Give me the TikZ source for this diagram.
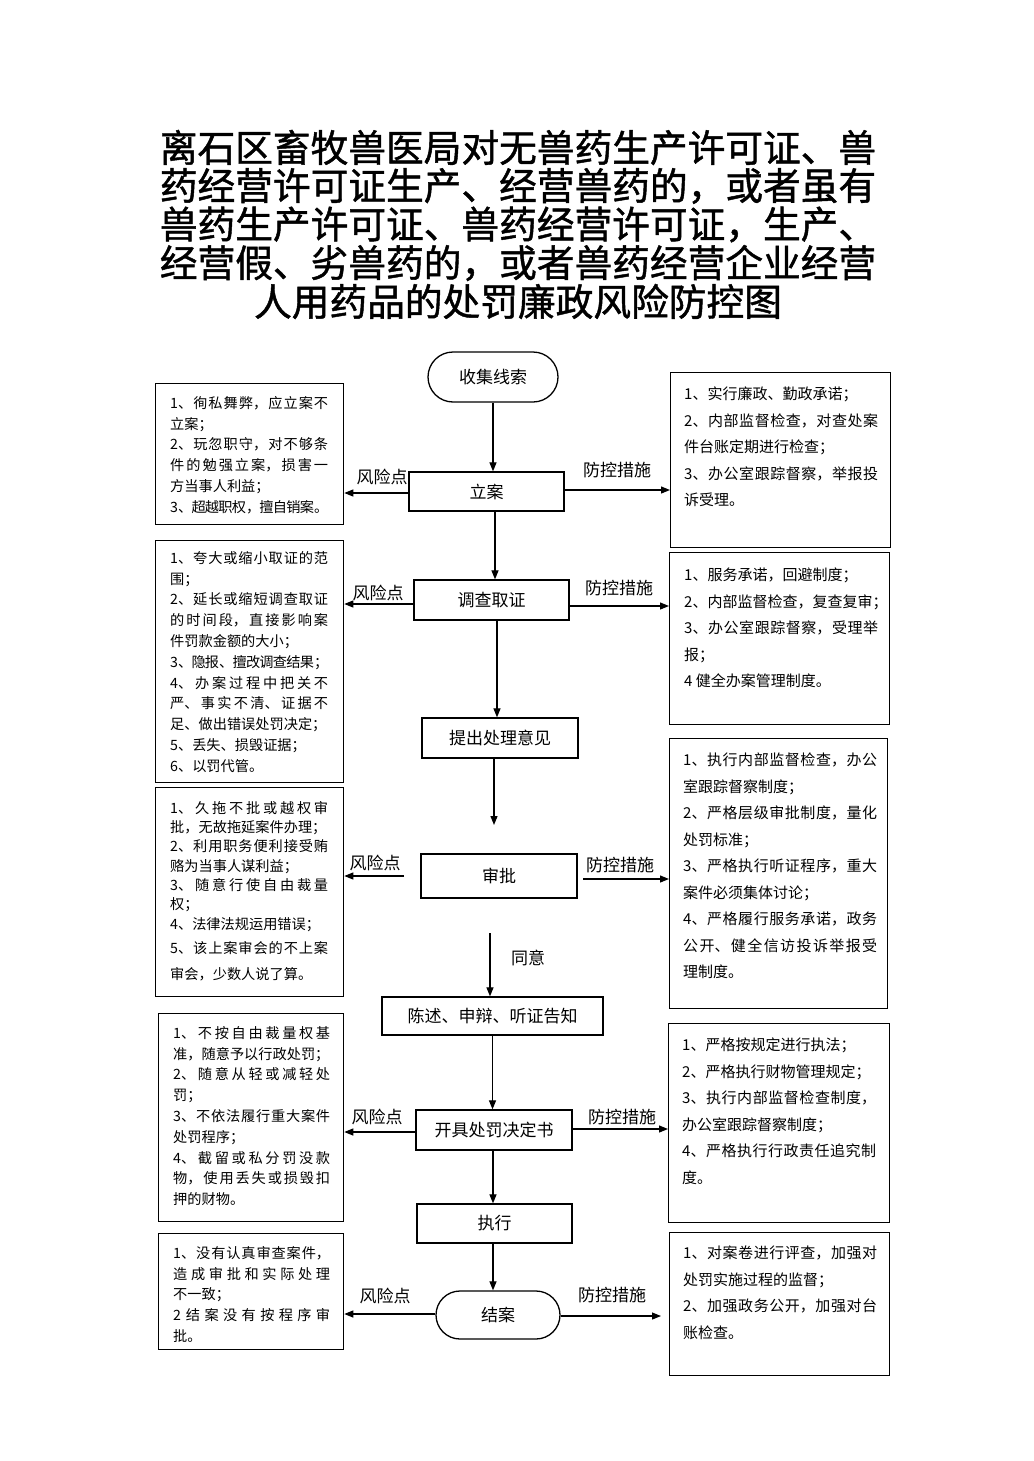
\documentclass[tikz,border=0pt]{standalone}
\usepackage{fontspec}
\usetikzlibrary{arrows.meta,calc}
\newfontfamily\cjkf{Noto Sans CJK SC}
\newfontfamily\cjkt{Noto Sans CJK SC}[FakeBold=1.2]
\XeTeXlinebreaklocale "zh"
\XeTeXlinebreakskip=0pt plus 4pt minus 1pt
\hbadness=10000 \vbadness=10000 \hfuzz=20pt \tolerance=10000
\newcommand\fitline[1]{\hbox to\linewidth{#1}}
\begin{document}
\begin{tikzpicture}[x=1pt,y=-1pt,
  ttl/.style={font=\cjkt\fontsize{37.7}{38.5}\selectfont, inner sep=0},
  proc/.style={draw, line width=1.3pt, inner sep=0, font=\cjkf\fontsize{17}{17}\selectfont},
  boxs/.style={draw, line width=1.3pt, inner sep=0, anchor=north west},
  ltext/.style={font=\cjkf\fontsize{14.2}{20.8}\selectfont, text width=158, align=justify, inner sep=0, anchor=base west},
  rtext/.style={font=\cjkf\fontsize{15}{26.5}\selectfont, text width=194, align=justify, inner sep=0, anchor=base west},
  lbl/.style={font=\cjkf\fontsize{17}{17}\selectfont, inner sep=0},
  arr/.style={line width=1.2pt, -{Triangle[length=9pt,width=7pt]}}]
\fill[white] (0,0) rectangle (1033,1461);
\useasboundingbox (0,0) rectangle (1033,1461);

% title
\node[ttl] (t1) at (518,147.5) {离石区畜牧兽医局对无兽药生产许可证、兽};
\node[ttl] (t2) at (518,186) {药经营许可证生产、经营兽药的，或者虽有};
\node[ttl] (t3) at (518,224.5) {兽药生产许可证、兽药经营许可证，生产、};
\node[ttl] (t4) at (518,263) {经营假、劣兽药的，或者兽药经营企业经营};
\node[ttl] (t5) at (518,301.5) {人用药品的处罚廉政风险防控图};

% central flow
\node[proc, minimum width=130, minimum height=50, rounded corners=25] (n1) at (493,377) {收集线索};
\node[proc, minimum width=155, minimum height=39] (n2) at (486.5,491.5) {立案};
\node[proc, minimum width=155, minimum height=40] (n3) at (491.5,600) {调查取证};
\node[proc, minimum width=156, minimum height=40] (n4) at (500,738) {提出处理意见};
\node[proc, minimum width=156, minimum height=44] (n5) at (499,876) {审批};
\node[proc, minimum width=221, minimum height=38] (n6) at (492.5,1016) {陈述、申辩、听证告知};
\node[proc, minimum width=156, minimum height=40] (n7) at (494,1130) {开具处罚决定书};
\node[proc, minimum width=155, minimum height=39] (n8) at (494.5,1223.5) {执行};
\node[proc, minimum width=124, minimum height=48, rounded corners=24] (n9) at (498,1315) {结案};

% left boxes
\node[boxs, minimum width=188, minimum height=141] (L1) at (155,383) {};
\node[boxs, minimum width=188, minimum height=242] (L2) at (155,540) {};
\node[boxs, minimum width=188, minimum height=209] (L3) at (155,787) {};
\node[boxs, minimum width=185, minimum height=208] (L4) at (158,1013) {};
\node[boxs, minimum width=185, minimum height=116] (L5) at (158,1233) {};

% right boxes
\node[boxs, minimum width=220, minimum height=175] (R1) at (670,372) {};
\node[boxs, minimum width=220, minimum height=172] (R2) at (669,552) {};
\node[boxs, minimum width=218, minimum height=270] (R3) at (669,738) {};
\node[boxs, minimum width=221, minimum height=199] (R4) at (668,1023) {};
\node[boxs, minimum width=220, minimum height=143] (R5) at (669,1232) {};

% left texts
\node[ltext] (L1t) at (170,408.3) {1、徇私舞弊，应立案不\linebreak 立案；\par
2、玩忽职守，对不够条\linebreak 件的勉强立案，损害一\linebreak 方当事人利益；\par
3、超越职权，擅自销案。};
\node[ltext] (L2t) at (170,563.3) {1、夸大或缩小取证的范\linebreak 围；\par
2、延长或缩短调查取证\linebreak 的时间段，直接影响案\linebreak 件罚款金额的大小；\par
3、隐报、擅改调查结果；\par
4、办案过程中把关不\linebreak 严、事实不清、证据不\linebreak 足、做出错误处罚决定；\par
5、丢失、损毁证据；\par
6、以罚代管。};
\node[ltext, font=\cjkf\fontsize{14.2}{19.3}\selectfont] (L3t) at (170,813.3) {1、久拖不批或越权审\linebreak 批，无故拖延案件办理；\par
2、利用职务便利接受贿\linebreak 赂为当事人谋利益；\par
3、随意行使自由裁量\linebreak 权；\par
4、法律法规运用错误；\par\vspace{4.7pt}
5、该上案审会的不上案\vadjust{\vskip 6.7pt}\linebreak 审会，少数人说了算。};
\node[ltext, text width=157] (L4t) at (173,1038.3) {1、不按自由裁量权基\linebreak 准，随意予以行政处罚；\par
2、随意从轻或减轻处\linebreak 罚；\par
3、不依法履行重大案件\linebreak 处罚程序；\par
4、截留或私分罚没款\linebreak 物，使用丢失或损毁扣\linebreak 押的财物。};
\node[ltext, text width=157] (L5t) at (173,1258.3) {1、没有认真审查案件，\linebreak 造成审批和实际处理\linebreak 不一致；\par
2 结案没有按程序审\linebreak 批。};

% right texts
\node[rtext] (R1t) at (684,399.6) {1、实行廉政、勤政承诺；\par
2、内部监督检查，对查处案\linebreak 件台账定期进行检查；\par
3、办公室跟踪督察，举报投\linebreak 诉受理。};
\node[rtext] (R2t) at (684,580.6) {1、服务承诺，回避制度；\par
\fitline{2、内部监督检查，复查复审；}\par
3、办公室跟踪督察，受理举\linebreak 报；\par
4 健全办案管理制度。};
\node[rtext] (R3t) at (683,765.6) {1、执行内部监督检查，办公\linebreak 室跟踪督察制度；\par
2、严格层级审批制度，量化\linebreak 处罚标准；\par
3、严格执行听证程序，重大\linebreak 案件必须集体讨论；\par
4、严格履行服务承诺，政务\linebreak 公开、健全信访投诉举报受\linebreak 理制度。};
\node[rtext] (R4t) at (682,1050.6) {1、严格按规定进行执法；\par
2、严格执行财物管理规定；\par
3、执行内部监督检查制度，\linebreak 办公室跟踪督察制度；\par
4、严格执行行政责任追究制\linebreak 度。};
\node[rtext] (R5t) at (683,1258.6) {1、对案卷进行评查，加强对\linebreak 处罚实施过程的监督；\par
2、加强政务公开，加强对台\linebreak 账检查。};

% vertical arrows
\draw[arr] (n1.south) -- (n1.south |- n2.north);
\draw[arr] ([xshift=8.5]n2.south) -- ([xshift=8.5]n2.south |- n3.north);
\draw[arr] ([xshift=5.5]n3.south) -- ([xshift=5.5]n3.south |- n4.north);
\coordinate (c1) at (494,825);
\draw[arr] (c1 |- n4.south) -- (c1);
\coordinate (c2) at (490,933);
\draw[arr] (c2) -- (c2 |- n6.north);
\draw[arr] (n6.south) -- (n6.south |- n7.north);
\draw[arr] ([xshift=-1]n7.south) -- ([xshift=-1]n7.south |- n8.north);
\draw[arr] ([xshift=-1.5]n8.south) -- ([xshift=-1.5]n8.south |- n9.north);

% horizontal arrows
\draw[arr] ([yshift=-1.5]n2.west) -- ([yshift=-1.5]n2.west -| L1.east);
\draw[arr] ([yshift=1.5]n2.east) -- ([yshift=1.5]n2.east -| R1.west);
\draw[arr] ([yshift=-4]n3.west) -- ([yshift=-4]n3.west -| L2.east);
\draw[arr] ([yshift=-6]n3.east) -- ([yshift=-6]n3.east -| R2.west);
\coordinate (c3) at (404,876);
\draw[arr] (c3) -- (c3 -| L3.east);
\coordinate (c4) at (583,879);
\draw[arr] (c4) -- (c4 -| R3.west);
\draw[arr] ([yshift=-2]n7.west) -- ([yshift=-2]n7.west -| L4.east);
\draw[arr] ([yshift=1]n7.east) -- ([yshift=1]n7.east -| R4.west);
\draw[arr] ([yshift=1]n9.west) -- ([yshift=1]n9.west -| L5.east);
\draw[arr, shorten >=8pt] ([yshift=-1]n9.east) -- ([yshift=-1]n9.east -| R5.west);

% labels
\node[lbl] (a1) at (382,477) {风险点};
\node[lbl] (b1) at (617,470) {防控措施};
\node[lbl] (a2) at (378,593) {风险点};
\node[lbl] (b2) at (619,588) {防控措施};
\node[lbl] (a3) at (375,863) {风险点};
\node[lbl] (b3) at (620,865) {防控措施};
\node[lbl] (ty) at (528,958) {同意};
\node[lbl] (a4) at (377,1117) {风险点};
\node[lbl] (b4) at (622,1117) {防控措施};
\node[lbl] (a5) at (385,1296) {风险点};
\node[lbl] (b5) at (612,1295) {防控措施};
\end{tikzpicture}
\end{document}
